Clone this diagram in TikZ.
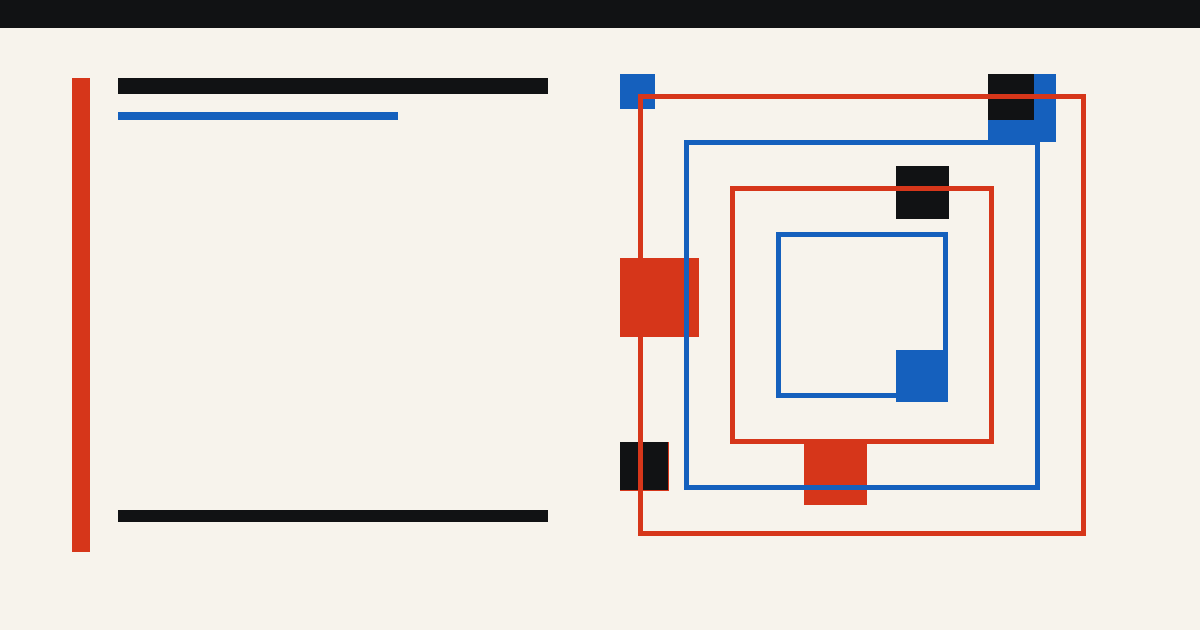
\documentclass[tikz,border=0pt]{standalone}
\definecolor{bg}{RGB}{247,243,236}
\definecolor{ink}{RGB}{17,18,20}
\definecolor{vermil}{RGB}{214,54,26}
\definecolor{cobalt}{RGB}{21,96,189}
\tikzset{
  redfill/.style={fill=vermil},
  bluefill/.style={fill=cobalt},
  inkfill/.style={fill=ink},
  redframe/.style={draw=vermil,line width=5pt},
  blueframe/.style={draw=cobalt,line width=5pt}
}
\begin{document}
\begin{tikzpicture}[x=1pt,y=-1pt]
\useasboundingbox (0,0) rectangle (1200,630);
\fill[bg] (0,0) rectangle (1200,630);
\fill[ink] (0,0) rectangle (1200,28);
% left column
\path[redfill] (72,78) rectangle (90,552);
\path[inkfill] (118,78) rectangle (548,94);
\path[bluefill] (118,112) rectangle (398,120);
\path[inkfill] (118,510) rectangle (548,522);
% squares
\path[bluefill] (620,74) rectangle (655,109);
\path[bluefill] (988,74) rectangle (1056,142);
\path[inkfill] (988,74) rectangle (1034,120);
\path[inkfill] (896,166) rectangle (949,219);
\path[redfill] (620,258) rectangle (699,337);
\path[bluefill] (896,350) rectangle (948,402);
\path[redfill] (620,442) rectangle (669,491);
\path[inkfill] (620,442) rectangle (668,490);
\path[redfill] (804,442) rectangle (867,505);
% frames
\draw[redframe] (640.5,96.5) rectangle (1083.5,533.5);
\draw[blueframe] (686.5,142.5) rectangle (1037.5,487.5);
\draw[redframe] (732.5,188.5) rectangle (991.5,441.5);
\draw[blueframe] (778.5,234.5) rectangle (945.5,395.5);
\end{tikzpicture}
\end{document}
